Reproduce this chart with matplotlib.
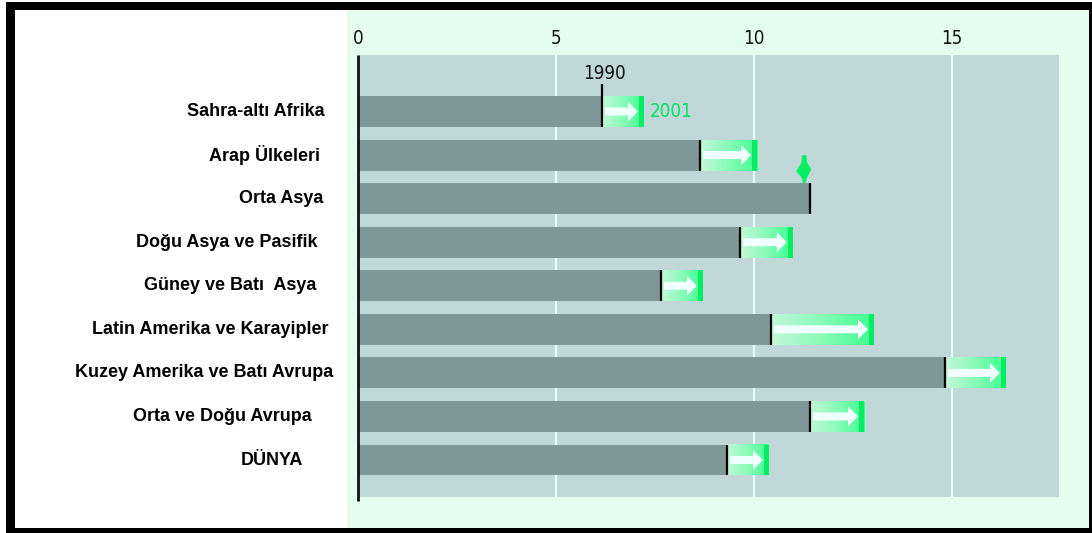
import numpy as np
import matplotlib
matplotlib.use("Agg")
import matplotlib.pyplot as plt
from matplotlib.patches import Rectangle, Polygon
from matplotlib.colors import LinearSegmentedColormap
import matplotlib.transforms as mtransforms
from matplotlib import font_manager

# ---------------- data ----------------
categories = ["Sahra-altı Afrika", "Arap Ülkeleri", "Orta Asya",
              "Doğu Asya ve Pasifik", "Güney ve Batı  Asya",
              "Latin Amerika ve Karayipler", "Kuzey Amerika ve Batı Avrupa",
              "Orta ve Doğu Avrupa", "DÜNYA"]
values_1990 = [6.16, 8.64, 11.41, 9.65, 7.65, 10.43, 14.82, 11.41, 9.32]
values_2001 = [7.22, 10.08, 11.27, 10.98, 8.71, 13.03, 16.36, 12.78, 10.38]
xticks = [0, 5, 10, 15]
year_start_label = "1990"
year_end_label = "2001"

# layout (pixel right edges of category labels)
label_right_px = [325, 320, 323, 318, 316, 328, 333, 312, 303]

# condensed font for numbers if available
names = {f.name for f in font_manager.fontManager.ttflist}
num_font = dict(family="DejaVu Sans", stretch="condensed")
if "Liberation Sans Narrow" in names:
    num_font = dict(family="Liberation Sans Narrow")

W, H = 1092, 533
fig = plt.figure(figsize=(W / 100, H / 100), dpi=100)
fig.patch.set_facecolor("white")

def fig_rect(x0, y0, x1, y1, color, z):
    fig.patches.append(Rectangle((x0 / W, 1 - y1 / H), (x1 - x0) / W, (y1 - y0) / H,
                                 transform=fig.transFigure, facecolor=color,
                                 edgecolor="none", zorder=z))

fig_rect(6, 2, 1092, 533, "black", -10)
fig_rect(15, 10, 1089, 528, "white", -9)
fig_rect(347, 10, 1089, 528, "#e4fdee", -8)

ax_l, ax_r, ax_t, ax_b = 358, 1059, 55, 497
ax = fig.add_axes([ax_l / W, 1 - ax_b / H, (ax_r - ax_l) / W, (ax_b - ax_t) / H])
ax.set_facecolor("#c1d8d8")
for s in ax.spines.values():
    s.set_visible(False)

xmax = (ax_r - ax_l) / 39.6
ax.set_xlim(0, xmax)
ax.set_ylim(8.849, -1.297)

px_x = 1 / 39.6     # data units per pixel in x
px_y = 1 / 43.56    # data units per pixel in y

ax.xaxis.tick_top()
ax.set_xticks(xticks)
ax.set_xticklabels([str(t) for t in xticks])
for lab in ax.get_xticklabels():
    lab.set_fontsize(13.5)
    lab.set_color("#111111")
    lab.set_fontfamily(num_font["family"])
    if "stretch" in num_font:
        lab.set_fontstretch(num_font["stretch"])
ax.tick_params(axis="x", length=0, pad=5)
ax.set_yticks([])
for t in xticks[1:]:
    ax.axvline(t, color="#e8ffff", lw=1.5, zorder=1)

ypos = np.arange(len(categories))
bh = 0.71
ax.barh(ypos, values_1990, height=bh, color="#7e9797", zorder=2)

grad_cmap = LinearSegmentedColormap.from_list("g", ["#c4f6da", "#88fcb8", "#3cff8e"])
grad = np.linspace(0, 1, 256).reshape(1, -1)

for i, (a, b) in enumerate(zip(values_1990, values_2001)):
    y = ypos[i]
    top, bot = y - bh / 2, y + bh / 2
    if b > a:
        ax.imshow(grad, cmap=grad_cmap, extent=[a, b, bot, top], aspect="auto",
                  zorder=3, interpolation="bilinear")
        ax.add_patch(Rectangle((b - 5 * px_x, top), 5 * px_x, bh,
                               facecolor="#00ee60", edgecolor="none", zorder=4))
        x0 = a + 3 * px_x
        tip = b - 6 * px_x
        hl = 10 * px_x
        sh = 4 * px_y
        hh = 10 * px_y
        arrow = [(x0, y - sh), (tip - hl, y - sh), (tip - hl, y - hh), (tip, y),
                 (tip - hl, y + hh), (tip - hl, y + sh), (x0, y + sh)]
        ax.add_patch(Polygon(arrow, closed=True, facecolor="#f0ffff",
                             edgecolor="none", zorder=5))
    else:
        # small green marker above the bar showing the 2001 value
        pts_px = [(-2, 28), (2, 28), (3, 20), (7, 14), (3, 6), (1, 0), (-1, 0),
                  (-3, 6), (-8, 12), (-3, 20)]
        pts = [(b + dx * px_x, top - dy * px_y) for dx, dy in pts_px]
        ax.add_patch(Polygon(pts, closed=True, facecolor="#00f060",
                             edgecolor="none", zorder=5, clip_on=False))
    ext = 12 * px_y if i == 0 else 0
    ax.plot([a, a], [bot, top - ext], color="black", lw=1.6, zorder=6,
            solid_capstyle="butt")

# year labels on the first bar
t1 = ax.text(values_1990[0] + 3 * px_x, ypos[0] - bh / 2 - 13 * px_y, year_start_label,
             ha="center", va="bottom", fontsize=13.5, color="#111111", zorder=7)
t2 = ax.text(values_2001[0] + 6 * px_x, ypos[0], year_end_label,
             ha="left", va="center", fontsize=13.5, color="#00e060", zorder=7)
for t in (t1, t2):
    t.set_fontfamily(num_font["family"])
    if "stretch" in num_font:
        t.set_fontstretch(num_font["stretch"])

# left axis line
ax.plot([0, 0], [-1.297, 8.849 + 4 * px_y], color="#111111", lw=2, zorder=7,
        clip_on=False, solid_capstyle="butt")

# category labels
trans = mtransforms.blended_transform_factory(fig.transFigure, ax.transData)
for i, (lab, rx) in enumerate(zip(categories, label_right_px)):
    fig.text(rx / W, ypos[i], lab, transform=trans, ha="right", va="center",
             fontsize=13, fontweight="bold", family=["Liberation Sans", "DejaVu Sans"],
             color="black")

fig.savefig("out.png", dpi=100)
